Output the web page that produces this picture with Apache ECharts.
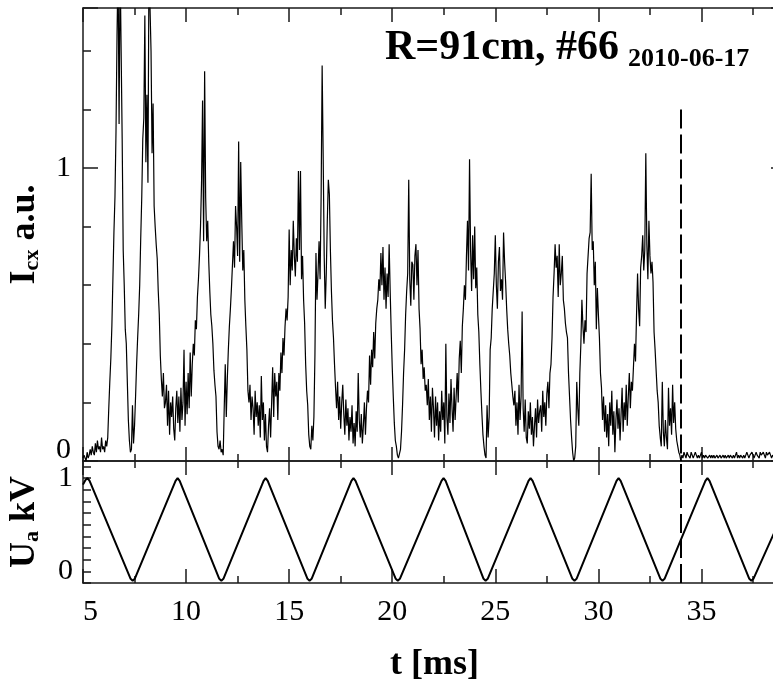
<!DOCTYPE html>
<html>
<head>
<meta charset="utf-8">
<script src="https://cdn.jsdelivr.net/npm/echarts@6/dist/echarts.min.js"></script>
<style>
html,body{margin:0;padding:0;background:#fff;}
#chart{width:773px;height:683px;}
</style>
</head>
<body>
<div id="chart"></div>
<script>
// ---------------- DATA ----------------
const icxT0 = 5.0;
const icxDt = 0.05;
const icx5to13 = [
  0.01,0.02,0.01,0.00,0.03,0.01,0.02,0.04,0.02,0.05,0.03,0.02,0.06,0.03,0.07,0.04,0.05,0.03,0.08,0.04,
  0.05,0.03,0.07,0.05,0.08,0.18,0.27,0.35,0.46,0.62,0.78,0.90,1.12,1.45,1.70,1.15,1.70,1.70,1.10,0.72,
  0.60,0.45,0.40,0.27,0.14,0.07,0.03,0.04,0.19,0.06,0.12,0.22,0.33,0.42,0.50,0.60,0.76,0.90,1.10,1.17,
  1.52,1.02,1.25,0.95,1.70,1.70,1.40,1.05,1.22,0.87,0.80,0.74,0.69,0.58,0.50,0.36,0.28,0.22,0.30,0.18,
  0.20,0.26,0.12,0.24,0.09,0.20,0.15,0.22,0.11,0.07,0.18,0.24,0.13,0.22,0.10,0.25,0.14,0.20,0.38,0.12,
  0.27,0.16,0.30,0.18,0.37,0.22,0.33,0.40,0.36,0.48,0.45,0.56,0.62,0.70,0.80,0.95,1.23,0.75,1.33,0.90,
  0.75,0.82,0.68,0.58,0.50,0.46,0.40,0.31,0.26,0.22,0.10,0.05,0.04,0.07,0.03,0.04,0.02,0.18,0.33,0.15,
  0.28,0.38,0.46,0.52,0.59,0.67,0.75,0.66,0.87,0.80,0.70,1.09,0.68,1.02,0.82,0.65,0.72,0.55,0.46,0.38
];
const icx13to21 = [
  0.24,0.20,0.26,0.14,0.22,0.18,0.09,0.24,0.15,0.20,0.12,0.19,0.08,0.29,0.14,0.20,0.07,0.16,0.05,0.03,
  0.12,0.18,0.08,0.20,0.32,0.15,0.30,0.22,0.27,0.14,0.30,0.24,0.37,0.30,0.42,0.36,0.46,0.52,0.48,0.56,
  0.79,0.60,0.72,0.65,0.82,0.70,0.63,0.76,0.68,0.99,0.72,0.99,0.62,0.70,0.55,0.47,0.33,0.24,0.19,0.09,
  0.05,0.04,0.12,0.07,0.15,0.36,0.71,0.55,0.64,0.75,0.62,0.90,1.35,1.04,0.70,0.52,0.64,0.82,0.96,0.91,
  0.72,0.58,0.48,0.42,0.33,0.25,0.18,0.27,0.14,0.22,0.11,0.20,0.26,0.16,0.09,0.21,0.12,0.18,0.07,0.15,
  0.10,0.19,0.06,0.13,0.05,0.17,0.10,0.30,0.14,0.08,0.16,0.06,0.12,0.20,0.09,0.18,0.24,0.20,0.36,0.26,
  0.38,0.32,0.44,0.35,0.47,0.52,0.55,0.62,0.58,0.71,0.60,0.73,0.55,0.66,0.52,0.64,0.56,0.74,0.58,0.44,
  0.32,0.22,0.13,0.07,0.05,0.02,0.01,0.01,0.04,0.10,0.19,0.30,0.38,0.50,0.58,0.64,0.96,0.62,0.53,0.68
];
const icx21to29 = [
  0.67,0.55,0.70,0.74,0.60,0.72,0.52,0.45,0.33,0.38,0.28,0.32,0.24,0.26,0.19,0.28,0.14,0.22,0.10,0.25,
  0.18,0.08,0.22,0.12,0.20,0.07,0.17,0.10,0.24,0.14,0.20,0.06,0.40,0.15,0.09,0.23,0.13,0.28,0.18,0.10,
  0.25,0.14,0.22,0.30,0.20,0.35,0.41,0.30,0.46,0.52,0.60,0.55,0.70,0.82,0.65,1.03,0.72,0.58,0.77,0.62,
  0.80,0.59,0.66,0.50,0.44,0.33,0.24,0.16,0.09,0.05,0.02,0.01,0.19,0.08,0.15,0.38,0.42,0.52,0.58,0.64,
  0.77,0.60,0.52,0.68,0.73,0.58,0.62,0.55,0.78,0.68,0.61,0.52,0.45,0.40,0.36,0.30,0.26,0.22,0.19,0.24,
  0.12,0.20,0.09,0.26,0.14,0.22,0.51,0.18,0.10,0.21,0.08,0.06,0.17,0.11,0.20,0.09,0.15,0.05,0.12,0.18,
  0.08,0.21,0.13,0.17,0.19,0.10,0.24,0.15,0.20,0.12,0.23,0.27,0.18,0.30,0.33,0.42,0.56,0.64,0.74,0.66,
  0.70,0.56,0.74,0.60,0.64,0.70,0.55,0.52,0.47,0.44,0.42,0.30,0.22,0.14,0.08,0.03,0.00,0.01,0.05,0.27
];
const icx29to39 = [
  0.18,0.12,0.30,0.40,0.55,0.46,0.40,0.48,0.44,0.64,0.70,0.76,0.78,0.98,0.72,0.75,0.60,0.68,0.45,0.59,
  0.50,0.42,0.30,0.25,0.14,0.22,0.10,0.19,0.08,0.16,0.05,0.20,0.12,0.24,0.09,0.17,0.03,0.14,0.21,0.11,
  0.18,0.07,0.16,0.25,0.10,0.20,0.14,0.26,0.12,0.22,0.30,0.18,0.27,0.24,0.32,0.40,0.34,0.50,0.64,0.52,
  0.46,0.66,0.70,0.77,0.65,0.72,1.05,0.74,0.62,0.82,0.70,0.64,0.68,0.61,0.44,0.38,0.31,0.24,0.20,0.12,
  0.08,0.05,0.27,0.10,0.05,0.14,0.08,0.04,0.25,0.12,0.18,0.09,0.26,0.13,0.20,0.11,0.07,0.05,0.03,0.02,
  0.00,0.02,0.01,0.03,0.02,0.01,0.03,0.02,0.02,0.01,0.03,0.02,0.01,0.02,0.03,0.02,0.01,0.02,0.01,0.02,
  0.03,0.01,0.02,0.01,0.02,0.02,0.01,0.01,0.02,0.01,0.02,0.01,0.02,0.01,0.01,0.02,0.01,0.01,0.02,0.01,
  0.01,0.02,0.01,0.02,0.01,0.01,0.02,0.01,0.02,0.02,0.01,0.02,0.01,0.02,0.03,0.01,0.02,0.01,0.02,0.02,
  0.01,0.02,0.01,0.02,0.03,0.02,0.01,0.02,0.02,0.03,0.02,0.01,0.02,0.03,0.02,0.02,0.01,0.03,0.02,0.02,
  0.03,0.02,0.01,0.03,0.02,0.02,0.03,0.02,0.01,0.02,0.02,0.01,0.02,0.01,0.02,0.01,0.02,0.02,0.01,0.02,
  0.01,0.02,0.01
];

// U_a triangle wave vertices (ms, kV)
const uaT = [5.00,5.12,5.22,5.32, 7.31,7.41,7.51, 9.49,9.59,9.69, 11.61,11.71,11.81, 13.76,13.86,13.96,
  15.89,15.99,16.09, 18.02,18.12,18.22, 20.17,20.27,20.37, 22.39,22.49,22.59, 24.43,24.53,24.63,
  26.61,26.71,26.81, 28.74,28.84,28.94, 30.88,30.98,31.08, 33.01,33.11,33.21, 35.19,35.29,35.39,
  37.32,37.42,37.52, 38.60];
const uaV = [0.93,0.98,1.00,0.97, -0.08,-0.10,-0.08, 0.97,1.00,0.97, -0.08,-0.10,-0.08, 0.97,1.00,0.97,
  -0.08,-0.10,-0.08, 0.97,1.00,0.97, -0.08,-0.10,-0.08, 0.97,1.00,0.97, -0.08,-0.10,-0.08,
  0.97,1.00,0.97, -0.08,-0.10,-0.08, 0.97,1.00,0.97, -0.08,-0.10,-0.08, 0.97,1.00,0.97,
  -0.08,-0.10,-0.08, 0.45];

const markT = 34.0;      // dashed vertical line (ms)
const markTop = 1.2;     // top of dashed line in I_cx units
const xTickLabels = [5, 10, 15, 20, 25, 30, 35];
const icxTickLabels = [0, 1];
const uaTickLabels = [0, 1];
const titleMain = 'R=91cm, #66';
const titleDate = '2010-06-17';

// ---------------- BUILD ----------------
const icxAll = icx5to13.concat(icx13to21, icx21to29, icx29to39);
const icxData = icxAll.map((v, i) => [+(icxT0 + i * icxDt).toFixed(3), v]);
const uaData = uaT.map((t, i) => [t, uaV[i]]);

const FONT = '"Liberation Serif", "Times New Roman", Times, serif';
const AX = { color: '#1a1a1a', width: 1.5 };

function isIn(v, arr) { return arr.some(a => Math.abs(a - v) < 1e-9); }

function xAxisDef(grid, pos, withLabels) {
  const a = {
    type: 'value', gridIndex: grid, position: pos,
    min: 5, max: 39.1, interval: 5,
    axisLine: { show: true, onZero: false, lineStyle: AX },
    axisTick: { show: true, inside: true, length: 14, lineStyle: AX },
    minorTick: { show: true, splitNumber: 2, length: 7, lineStyle: AX },
    splitLine: { show: false }, minorSplitLine: { show: false },
    axisLabel: { show: false },
    nameMoveOverlap: false
  };
  if (withLabels) {
    a.axisLabel = {
      show: true, fontFamily: FONT, fontSize: 30, color: '#000', margin: 14,
      alignMinLabel: 'left',
      formatter: v => isIn(v, xTickLabels) ? String(Math.round(v)) : ''
    };
    a.name = 't [ms]';
    a.nameLocation = 'middle';
    a.nameGap = 64;
    a.nameTextStyle = { fontFamily: FONT, fontWeight: 'bold', fontSize: 36, color: '#000', lineHeight: 36 };
  }
  return a;
}

const richName = {
  b: { fontFamily: FONT, fontWeight: 'bold', fontSize: 36, color: '#000', lineHeight: 36 },
  s: { fontFamily: FONT, fontWeight: 'bold', fontSize: 22, color: '#000', verticalAlign: 'bottom', lineHeight: 22 }
};

const option = {
  animation: false,
  backgroundColor: '#ffffff',
  title: [
    { text: titleMain, left: 385, top: 27, padding: 0,
      textStyle: { fontFamily: FONT, fontWeight: 'bold', fontSize: 42, lineHeight: 42, color: '#000' } },
    { text: titleDate, left: 628, top: 46, padding: 0,
      textStyle: { fontFamily: FONT, fontWeight: 'bold', fontSize: 26, lineHeight: 26, color: '#000' } }
  ],
  grid: [
    { left: 83, top: 8, width: 703, height: 453, containLabel: false, outerBoundsMode: 'none' },
    { left: 83, top: 461, width: 703, height: 122, containLabel: false, outerBoundsMode: 'none' }
  ],
  xAxis: [
    xAxisDef(0, 'bottom', false),
    xAxisDef(0, 'top', false),
    xAxisDef(1, 'bottom', true),
    xAxisDef(1, 'top', false)
  ],
  yAxis: [
    {
      type: 'value', gridIndex: 0, position: 'left', min: 0, max: 1.546, interval: 1,
      axisLine: { show: true, onZero: false, lineStyle: AX },
      axisTick: { show: true, inside: true, length: 15, lineStyle: AX },
      minorTick: { show: true, splitNumber: 5, length: 8, lineStyle: AX },
      splitLine: { show: false },
      axisLabel: {
        show: true, fontFamily: FONT, fontSize: 30, color: '#000', margin: 12,
        formatter: v => (Math.abs(v) < 1e-9 ? '{z|0}' : (isIn(v, icxTickLabels) ? String(Math.round(v)) : '')),
        rich: { z: { fontFamily: FONT, fontSize: 30, color: '#000', padding: [0, 0, 22, 0] } }
      },
      name: '{b|I}{s|cx}{b| a.u.}', nameLocation: 'middle', nameRotate: 90, nameGap: 40,
      nameTextStyle: { rich: richName }, nameMoveOverlap: false
    },
    {
      type: 'value', gridIndex: 0, position: 'right', min: 0, max: 1.546, interval: 1,
      axisLine: { show: true, onZero: false, lineStyle: AX },
      axisTick: { show: true, inside: true, length: 15, lineStyle: AX },
      minorTick: { show: true, splitNumber: 5, length: 8, lineStyle: AX },
      splitLine: { show: false }, axisLabel: { show: false }
    },
    {
      type: 'value', gridIndex: 1, position: 'left', min: -0.125, max: 1.183, interval: 0.125,
      axisLine: { show: true, onZero: false, lineStyle: AX },
      axisTick: { show: true, inside: true, length: 8, lineStyle: AX },
      splitLine: { show: false },
      axisLabel: {
        show: true, fontFamily: FONT, fontSize: 30, color: '#000', margin: 10,
        formatter: v => isIn(v, uaTickLabels) ? String(Math.round(v)) : ''
      },
      name: '{b|U}{s|a}{b| kV}', nameLocation: 'middle', nameRotate: 90, nameGap: 40,
      nameTextStyle: { rich: richName }, nameMoveOverlap: false
    },
    {
      type: 'value', gridIndex: 1, position: 'right', min: -0.125, max: 1.183, interval: 0.125,
      axisLine: { show: true, onZero: false, lineStyle: AX },
      axisTick: { show: true, inside: true, length: 8, lineStyle: AX },
      splitLine: { show: false }, axisLabel: { show: false }
    }
  ],
  series: [
    {
      name: 'Icx', type: 'line', xAxisIndex: 0, yAxisIndex: 0,
      data: icxData, symbol: 'none', showSymbol: false, clip: true, silent: true,
      lineStyle: { color: '#000', width: 1.2 },
      markLine: {
        silent: true, symbol: ['none', 'none'], label: { show: false }, animation: false,
        lineStyle: { color: '#000', width: 2, type: [19, 6] },
        data: [[{ coord: [markT, markTop] }, { coord: [markT, 0] }]]
      }
    },
    {
      name: 'Ua', type: 'line', xAxisIndex: 2, yAxisIndex: 2,
      data: uaData, symbol: 'none', showSymbol: false, clip: true, silent: true,
      lineStyle: { color: '#000', width: 2 },
      markLine: {
        silent: true, symbol: ['none', 'none'], label: { show: false }, animation: false,
        lineStyle: { color: '#000', width: 2, type: [19, 6] },
        data: [{ xAxis: markT }]
      }
    }
  ]
};

const chart = echarts.init(document.getElementById('chart'), null, { renderer: 'canvas' });
chart.setOption(option);
</script>
</body>
</html>
